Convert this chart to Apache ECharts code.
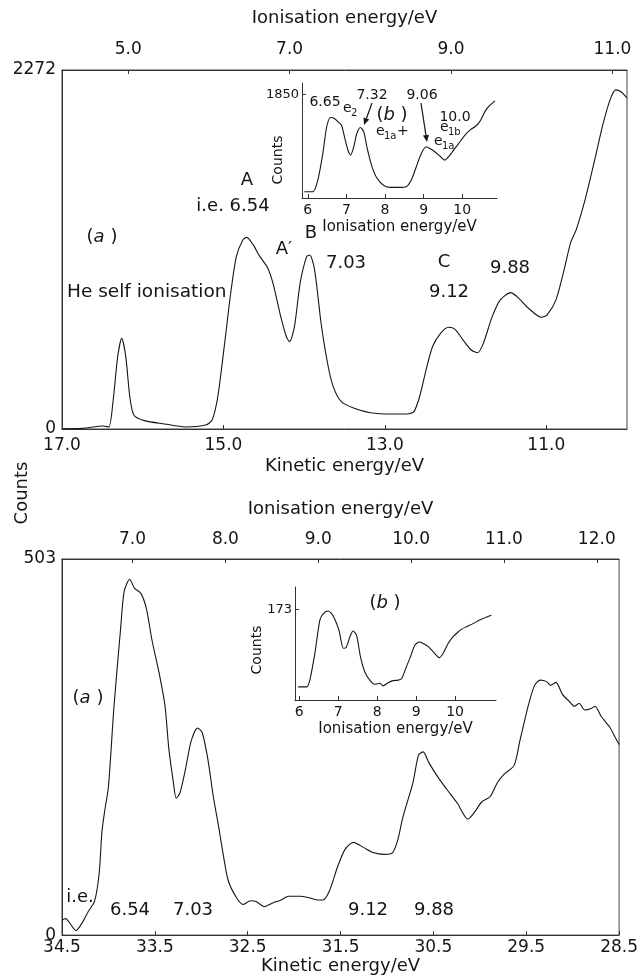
<!DOCTYPE html>
<html>
<head>
<meta charset="utf-8">
<script src="https://cdn.jsdelivr.net/npm/echarts@6/dist/echarts.min.js"></script>
<style>
  html, body { margin: 0; padding: 0; background: #fff; }
  #chart { width: 641px; height: 976px; }
</style>
</head>
<body>
<div id="chart"></div>
<script>
// ---- (a) He I spectrum, top panel: kinetic energy / counts
const keTop = [
  17.0, 16.75, 16.49, 16.42, 16.37, 16.31, 16.26, 16.21, 16.16, 16.11,
  15.98, 15.73, 15.47, 15.22, 15.14, 15.07, 14.99, 14.91, 14.84, 14.76,
  14.71, 14.63, 14.56, 14.45, 14.38, 14.30, 14.22, 14.18, 14.12, 14.05,
  13.97, 13.93, 13.87, 13.79, 13.71, 13.64, 13.54, 13.38, 13.18, 12.92,
  12.72, 12.64, 12.57, 12.49, 12.41, 12.31, 12.21, 12.13, 12.03, 11.93,
  11.85, 11.78, 11.67, 11.57, 11.44, 11.34, 11.22, 11.06, 10.99, 10.88,
  10.78, 10.70, 10.63, 10.52, 10.40, 10.30, 10.21, 10.14, 10.07, 10.0
];
const countsTop = [
  2, 4, 19, 13, 163, 458, 574, 458, 204, 89,
  53, 32, 13, 25, 57, 204, 521, 859, 1091, 1196,
  1213, 1165, 1101, 1017, 911, 732, 584, 553, 648, 922,
  1091, 1101, 1006, 669, 416, 268, 173, 131, 103, 95,
  95, 110, 204, 373, 521, 605, 644, 631, 563, 500,
  483, 542, 711, 817, 863, 827, 764, 707, 722, 817,
  1006, 1176, 1260, 1450, 1703, 1924, 2083, 2146, 2133, 2095
];
// (b) inset of the top panel: ionisation energy / counts
const ieTopInset = [
  5.91, 6.13, 6.26, 6.39, 6.49, 6.59, 6.69, 6.78, 6.87, 6.95,
  7.04, 7.11, 7.19, 7.27, 7.36, 7.45, 7.53, 7.65, 7.77, 7.95,
  8.12, 8.38, 8.55, 8.68, 8.81, 8.94, 9.07, 9.16, 9.29, 9.42,
  9.55, 9.68, 9.81, 9.94, 10.07, 10.20, 10.33, 10.42, 10.50, 10.61,
  10.72, 10.85
];
const countsTopInset = [
  112, 112, 320, 795, 1270, 1435, 1418, 1360, 1300, 1090,
  855, 765, 913, 1150, 1258, 1180, 913, 587, 380, 231,
  190, 190, 201, 320, 557, 795, 913, 884, 824, 748,
  676, 765, 884, 1002, 1121, 1210, 1270, 1330, 1419, 1566,
  1655, 1732
];

// ---- (a) He II spectrum, bottom panel
const keBot = [
  34.5, 34.46, 34.41, 34.35, 34.28, 34.22, 34.15, 34.10, 34.07, 34.04,
  34.0, 33.94, 33.87, 33.83, 33.77, 33.72, 33.65, 33.59, 33.53, 33.45,
  33.39, 33.35, 33.30, 33.27, 33.23, 33.17, 33.11, 33.04, 32.99, 32.93,
  32.87, 32.81, 32.78, 32.71, 32.62, 32.55, 32.47, 32.41, 32.32, 32.23,
  32.14, 32.06, 31.93, 31.84, 31.75, 31.69, 31.62, 31.53, 31.45, 31.36,
  31.25, 31.14, 31.03, 30.94, 30.88, 30.83, 30.72, 30.66, 30.61, 30.55,
  30.46, 30.35, 30.24, 30.13, 30.07, 29.98, 29.89, 29.81, 29.74, 29.63,
  29.57, 29.48, 29.41, 29.35, 29.28, 29.24, 29.18, 29.11, 29.04, 28.98,
  28.93, 28.87, 28.80, 28.76, 28.69, 28.60, 28.54, 28.5
];
const countsBot = [
  20, 22, 15, 6, 17, 31, 45, 82, 138, 166,
  198, 306, 408, 460, 476, 464, 457, 436, 394, 348,
  306, 250, 204, 183, 190, 222, 259, 277, 271, 236,
  185, 143, 120, 73, 50, 41, 46, 45, 38, 43,
  47, 52, 52, 50, 47, 47, 59, 92, 115, 124,
  117, 110, 108, 110, 129, 157, 204, 241, 245, 231,
  213, 194, 176, 155, 162, 178, 185, 204, 215, 227,
  259, 306, 334, 341, 339, 334, 338, 322, 313, 306,
  310, 301, 303, 306, 292, 278, 264, 255
];
// (b) inset of the bottom panel
const ieBotInset = [
  5.97, 6.19, 6.27, 6.40, 6.53, 6.63, 6.74, 6.83, 6.92, 7.02,
  7.13, 7.20, 7.30, 7.38, 7.47, 7.57, 7.68, 7.81, 7.94, 8.07,
  8.15, 8.28, 8.41, 8.54, 8.63, 8.73, 8.84, 8.97, 9.09, 9.18,
  9.31, 9.44, 9.59, 9.69, 9.82, 9.95, 10.08, 10.16, 10.29, 10.46,
  10.63, 10.93
];
const countsBotInset = [
  25, 25, 38, 89, 153, 166, 170, 165, 153, 133,
  99, 100, 121, 132, 124, 83, 54, 38, 30, 32,
  27, 33, 37, 38, 41, 60, 80, 105, 111, 108,
  102, 92, 81, 89, 108, 121, 130, 135, 140, 146,
  153, 162
];

// tick labels
const keTopTicks = [17, 15, 13, 11];
const ieTopTicks = [5, 7, 9, 11];
const keBotTicks = [34.5, 33.5, 32.5, 31.5, 30.5, 29.5, 28.5];
const ieBotTicks = [7, 8, 9, 10, 11, 12];
const insetTicks = [6, 7, 8, 9, 10];
const yTopTicks = [0, 2272];
const yTopInsetTicks = [1850];
const yBotTicks = [0, 503];
const yBotInsetTicks = [173];

// photon energies: IE = hv - KE
const HE_I = 21.18;
const HE_II = 40.74;

const FONT = '"DejaVu Sans", sans-serif';
const INK = '#151515';

function mkAxis(grid, pos, min, max, ticks, digits, size, name, nameGap, margin, inverse) {
  return {
    type: 'value', gridIndex: grid, position: pos, min: min, max: max, inverse: !!inverse,
    name: name, nameLocation: 'middle', nameGap: nameGap,
    nameTextStyle: { color: INK, fontFamily: FONT, fontSize: size + 1 },
    axisLine: { show: true, onZero: false, lineStyle: { color: '#333', width: 1 } },
    axisTick: { show: true, inside: true, length: 4, customValues: ticks, lineStyle: { color: '#333' } },
    axisLabel: { customValues: ticks, margin: margin, color: INK, fontFamily: FONT, fontSize: size,
      formatter: v => v.toFixed(digits) },
    splitLine: { show: false }
  };
}

function zip(xs, ys) { return xs.map((x, i) => [x, ys[i]]); }

function txt(x, y, text, size, align, extra) {
  return Object.assign({
    type: 'text', x: x, y: y, z: 20,
    style: { text: text, font: size + 'px ' + FONT, fill: INK, align: align || 'center', verticalAlign: 'middle' }
  }, extra || {});
}
// "(a)" style label with italic letter
function letter(x, y, ch, size) {
  return {
    type: 'text', x: x, y: y, z: 20,
    style: {
      text: '{n|(}{i|' + ch + '}{n| )}', align: 'center', verticalAlign: 'middle', fill: INK,
      rich: {
        n: { fontFamily: FONT, fontSize: size, fill: INK },
        i: { fontFamily: FONT, fontSize: size, fontStyle: 'italic', fill: INK }
      }
    }
  };
}
// e with subscript
function eSub(x, y, sub, tail) {
  const out = [txt(x, y, 'e', 14, 'left'), txt(x + 8, y + 5, sub, 10, 'left')];
  if (tail) out.push(txt(x + 8 + sub.length * 6.5, y, tail, 14, 'left'));
  return out;
}
function arrow(x1, y1, x2, y2) {
  const a = Math.atan2(y2 - y1, x2 - x1), h = 7, w = 3;
  const bx = x2 - h * Math.cos(a), by = y2 - h * Math.sin(a);
  return [
    { type: 'line', z: 20, shape: { x1: x1, y1: y1, x2: bx, y2: by }, style: { stroke: INK, lineWidth: 1.2 } },
    { type: 'polygon', z: 20, shape: { points: [[x2, y2], [bx + w * Math.sin(a), by - w * Math.cos(a)], [bx - w * Math.sin(a), by + w * Math.cos(a)]] },
      style: { fill: INK } }
  ];
}

const chart = echarts.init(document.getElementById('chart'));

const lineSeries = (xi, yi, data) => ({
  type: 'line', xAxisIndex: xi, yAxisIndex: yi,
  data: data, smooth: 0.25, showSymbol: false, symbol: 'none', animation: false,
  lineStyle: { color: INK, width: 1.1 }
});

const option = {
  backgroundColor: '#fff',
  animation: false,
  grid: [
    { left: 62, top: 70, width: 565, height: 359, show: true, borderColor: '#444', borderWidth: 1 },
    { left: 302, top: 83, width: 195, height: 115 },
    { left: 62, top: 559, width: 565, height: 381, show: true, borderColor: '#444', borderWidth: 1 },
    { left: 295, top: 587, width: 201, height: 113 }
  ],
  xAxis: [
    mkAxis(0, 'bottom', 10, 17, keTopTicks, 1, 17, 'Kinetic energy/eV', 28, 8, true),
    mkAxis(0, 'top', HE_I - 17, HE_I - 10, ieTopTicks, 1, 17, 'Ionisation energy/eV', 43, 12),
    mkAxis(1, 'bottom', 5.85, 10.9, insetTicks, 0, 14, 'Ionisation energy/eV', 22, 5),
    mkAxis(2, 'bottom', 28.5, 34.5, keBotTicks, 1, 17, 'Kinetic energy/eV', 20, 4, true),
    mkAxis(2, 'top', HE_II - 34.5, HE_II - 28.5, ieBotTicks, 1, 17, 'Ionisation energy/eV', 41, 11),
    mkAxis(3, 'bottom', 5.89, 11.05, insetTicks, 0, 14, 'Ionisation energy/eV', 22, 5)
  ],
  yAxis: [
    mkAxis(0, 'left', 0, 2272, yTopTicks, 0, 17, '', 0, 6),
    mkAxis(1, 'left', 0, 2050, yTopInsetTicks, 0, 13, '', 0, 3),
    mkAxis(2, 'left', 0, 503, yBotTicks, 0, 17, '', 0, 6),
    mkAxis(3, 'left', 0, 216, yBotInsetTicks, 0, 13, '', 0, 3)
  ],
  series: [
    lineSeries(0, 0, zip(keTop, countsTop)),
    lineSeries(2, 1, zip(ieTopInset, countsTopInset)),
    lineSeries(3, 2, zip(keBot, countsBot)),
    lineSeries(5, 3, zip(ieBotInset, countsBotInset))
  ],
  graphic: [].concat(
    [
      txt(22, 493, 'Counts', 18, 'center', { rotation: Math.PI / 2 }),
      txt(278, 160, 'Counts', 14, 'center', { rotation: Math.PI / 2 }),
      txt(257, 650, 'Counts', 14, 'center', { rotation: Math.PI / 2 })
    ],
    // top panel labels
    [
      letter(102, 237, 'a', 18),
      txt(67, 292, 'He self ionisation', 18.5, 'left'),
      txt(247, 180, 'A', 18),
      txt(233, 206, 'i.e. 6.54', 18),
      txt(284, 249, 'A\u2032', 18),
      txt(311, 233, 'B', 18),
      txt(346, 263, '7.03', 18),
      txt(444, 262, 'C', 18),
      txt(449, 292, '9.12', 18),
      txt(510, 268, '9.88', 18)
    ],
    // top inset labels
    [
      txt(325, 102, '6.65', 14),
      txt(372, 95, '7.32', 14),
      txt(422, 95, '9.06', 14),
      txt(455, 117, '10.0', 14),
      letter(392, 115, 'b', 18)
    ],
    eSub(343, 108, '2'),
    eSub(376, 131, '1a', '+'),
    eSub(440, 127, '1b'),
    eSub(434, 141, '1a'),
    arrow(372, 103, 364, 125),
    arrow(421, 103, 427, 142),
    // bottom panel labels
    [
      letter(88, 698, 'a', 18),
      letter(385, 603, 'b', 18),
      txt(80, 897, 'i.e.', 18),
      txt(130, 910, '6.54', 18),
      txt(193, 910, '7.03', 18),
      txt(368, 910, '9.12', 18),
      txt(434, 910, '9.88', 18)
    ]
  )
};

chart.setOption(option);
</script>
</body>
</html>
